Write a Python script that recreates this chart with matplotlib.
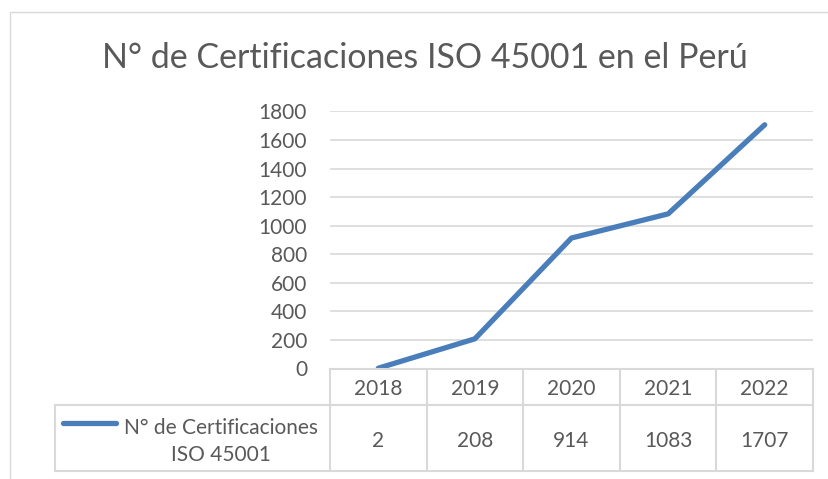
import matplotlib.pyplot as plt
from matplotlib.lines import Line2D
from matplotlib.patches import Rectangle

years = ["2018", "2019", "2020", "2021", "2022"]
certs = [2, 208, 914, 1083, 1707]
yticks = [0, 200, 400, 600, 800, 1000, 1200, 1400, 1600, 1800]
series_name = "N° de Certificaciones\nISO 45001"
title = "N° de Certificaciones ISO 45001 en el Perú"

plt.rcParams['font.family'] = ['Lato', 'DejaVu Sans']
W, H = 829, 479
txt = '#595959'
grid = '#D9D9D9'
blue = '#4A7EBB'
fs = 15

fig = plt.figure(figsize=(W / 100, H / 100), dpi=100)

def px(x, y):
    # pixel coords (top-left origin) -> figure fraction
    return x / W, 1 - y / H

# chart area border
fig.patches.append(Rectangle(px(10, 500), (W + 20) / W, 488 / H, transform=fig.transFigure,
                             fill=False, edgecolor=grid, lw=1))

fig.text(*px(425, 68), title, ha='center', va='baseline', fontsize=24.5, color=txt)

left, top, right, bottom = 330, 111.5, 813, 368.5
ax = fig.add_axes([left / W, 1 - bottom / H, (right - left) / W, (bottom - top) / H])
x = list(range(len(years)))
ax.plot(x, certs, color=blue, lw=3.8, solid_capstyle='round', zorder=3)
ax.set_xlim(-0.5, len(years) - 0.5)
ax.set_ylim(0, 1800)
ax.set_yticks(yticks)
ax.set_yticklabels([str(v) for v in yticks])
ax.tick_params(axis='y', length=0, pad=16.5, labelsize=fs, labelcolor=txt)
ax.set_xticks([])
ax.grid(axis='y', color=grid, lw=1.2)
ax.set_axisbelow(True)
for s in ax.spines.values():
    s.set_visible(False)

# data table below the axis
def fline(x0, y0, x1, y1):
    fig.add_artist(Line2D([x0 / W, x1 / W], [1 - y0 / H, 1 - y1 / H],
                          transform=fig.transFigure, color=grid, lw=1.5))

row1, row2 = 405, 471
col_w = (right - left) / len(years)
fline(left, bottom, right, bottom)
fline(55, row1, right, row1)
fline(55, row2, right, row2)
fline(55, row1, 55, row2)
for i in range(len(years) + 1):
    fline(left + i * col_w, bottom, left + i * col_w, row2)
for i, (yr, v) in enumerate(zip(years, certs)):
    cx = left + (i + 0.5) * col_w
    fig.text(*px(cx, 395), yr, ha='center', va='baseline', fontsize=fs, color=txt)
    fig.text(*px(cx, 447), str(v), ha='center', va='baseline', fontsize=fs, color=txt)

fig.add_artist(Line2D([63 / W, 116 / W], [1 - 423 / H] * 2, transform=fig.transFigure,
                      color=blue, lw=3.8, solid_capstyle='round'))
fig.text(*px(221, 461), series_name, ha='center', va='baseline', fontsize=fs, color=txt,
         linespacing=1.45)

fig.savefig('out.png', dpi=100)
